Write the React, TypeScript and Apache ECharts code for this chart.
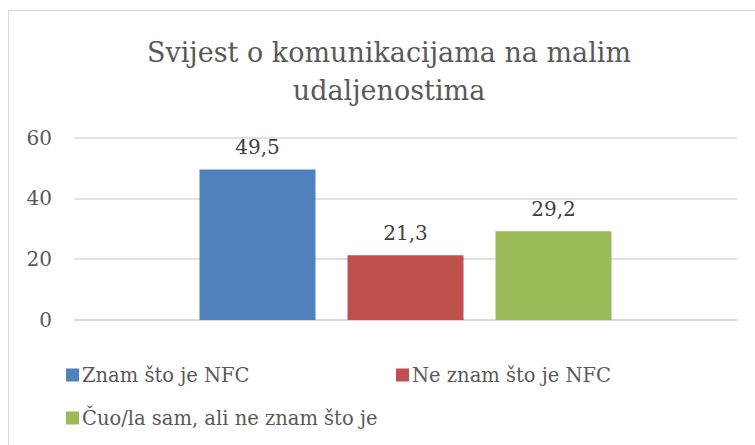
import React, { useEffect, useRef } from "react";
import * as echarts from "echarts";

const titleLines = ["Svijest o komunikacijama na malim", "udaljenostima"];
const categories = ["NFC"];
const seriesNames = ["Znam što je NFC", "Ne znam što je NFC", "Čuo/la sam, ali ne znam što je"];
const seriesValues = [49.5, 21.3, 29.2];
const seriesColors = ["#4f81bd", "#c0504d", "#9bbb59"];
const yTicks = { min: 0, max: 60, interval: 20 };

const FONT = "DejaVu Serif, serif";

export default function App() {
  const ref = useRef<HTMLDivElement>(null);
  useEffect(() => {
    document.body.style.margin = "0";
    const chart = echarts.init(ref.current!, null, { renderer: "svg" });
    const legendPos = [
      { left: 66, top: 365 },
      { left: 396, top: 365 },
      { left: 66, top: 408 },
    ];
    chart.setOption({
      animation: false,
      backgroundColor: "#ffffff",
      title: {
        text: titleLines.join("\n"),
        left: 384,
        top: 28,
        textAlign: "center",
        textStyle: {
          fontFamily: FONT,
          fontSize: 27,
          fontWeight: "normal",
          color: "#595959",
          lineHeight: 38,
        },
      },
      graphic: [
        {
          type: "rect",
          shape: { x: 8.5, y: 10.5, width: 800, height: 500 },
          style: { fill: "none", stroke: "#d9d9d9", lineWidth: 1 },
          silent: true,
        },
      ],
      legend: seriesNames.map((n, i) => ({
        data: [n],
        left: legendPos[i].left,
        top: legendPos[i].top,
        itemWidth: 13,
        itemHeight: 13,
        itemGap: 0,
        padding: 0,
        icon: "rect",
        textStyle: { fontFamily: FONT, fontSize: 19.5, color: "#595959", padding: [0, 0, 0, -2] },
      })),
      grid: { left: 74, right: 18, top: 137.5, bottom: 125, containLabel: false },
      xAxis: {
        type: "category",
        data: categories,
        axisLine: { show: true, lineStyle: { color: "#d9d9d9", width: 1.5 } },
        axisTick: { show: false },
        axisLabel: { show: false },
      },
      yAxis: {
        type: "value",
        min: yTicks.min,
        max: yTicks.max,
        interval: yTicks.interval,
        axisLine: { show: false },
        axisTick: { show: false },
        splitLine: { lineStyle: { color: "#d9d9d9", width: 1.5 } },
        axisLabel: { fontFamily: FONT, fontSize: 20, color: "#595959", margin: 22 },
      },
      series: seriesNames.map((n, i) => ({
        name: n,
        type: "bar",
        data: [seriesValues[i]],
        barWidth: 116,
        barGap: "27.6%",
        itemStyle: { color: seriesColors[i] },
        label: {
          show: true,
          position: "top",
          distance: 12,
          fontFamily: FONT,
          fontSize: 20,
          color: "#404040",
          formatter: (p: any) => String(p.value).replace(".", ","),
        },
      })),
    });
    return () => chart.dispose();
  }, []);
  return <div ref={ref} style={{ width: 755, height: 445 }} />;
}
